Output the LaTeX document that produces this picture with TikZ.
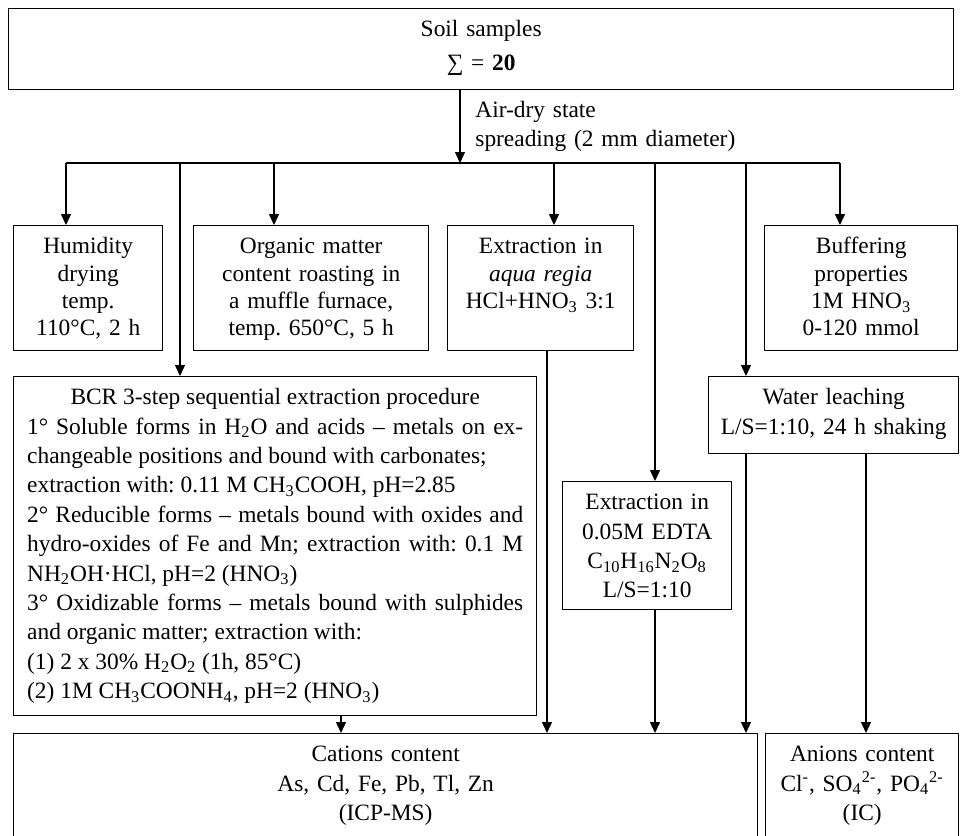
\documentclass[tikz,border=0pt]{standalone}
\usepackage{fontspec}
\setmainfont{Liberation Serif}
\frenchspacing
\usetikzlibrary{arrows.meta}
\tikzset{
  box/.style={draw, line width=0.7pt, anchor=north west, inner sep=0pt, align=center, text height=14pt},
  toprow/.style={box, font=\fontsize{11.7}{13.7}\selectfont, text depth=48.5pt},
  lbl/.style={anchor=north west, inner sep=0pt, align=left, text height=14pt},
  arr/.style={line width=0.7pt, -{Triangle[length=5.5pt,width=5pt]}},
}
\begin{document}
\begin{tikzpicture}[x=0.5pt,y=-0.5pt,font=\fontsize{11.7}{14.7}\selectfont,line join=round]
\useasboundingbox (0,0) rectangle (960,836);
% start
\node[box, text width=472.5pt, text depth=26.5pt] (soil) at (8,8) {Soil samples\\[2.3pt]∑ = \textbf{20}};
\node[lbl, text width=140pt] (prep) at (475,89) {Air-dry state\\spreading (2 mm diameter)};
\coordinate (bus) at (460,163);
% first row
\node[toprow, text width=74.5pt] (humid) at (13,225) {Humidity\\drying\\temp.\\110°C, 2 h};
\node[toprow, text width=117.5pt] (organic) at (193,225) {Organic matter\\content roasting in\\a muffle furnace,\\temp. 650°C, 5 h};
\node[toprow, text width=93pt] (aqua) at (447,225) {Extraction in\\\textit{aqua regia}\\HCl+HNO\textsubscript{3} 3:1};
\node[toprow, text width=96.5pt] (buffer) at (764,225) {Buffering\\properties\\1M HNO\textsubscript{3}\\0-120 mmol};
% second row
\node[box, align=justify, inner xsep=6.75pt, text width=248pt, text depth=155.5pt] (bcr) at (13,376) {%
\makebox[\linewidth]{BCR 3-step sequential extraction procedure}\\
1° Soluble forms in H\textsubscript{2}O and acids -- metals on ex-\linebreak
changeable positions and bound with carbonates;\\
extraction with: 0.11 M CH\textsubscript{3}COOH, pH=2.85\\
2° Reducible forms -- metals bound with oxides and\linebreak
hydro-oxides of Fe and Mn; extraction with: 0.1 M\linebreak
NH\textsubscript{2}OH·HCl, pH=2 (HNO\textsubscript{3})\\
3° Oxidizable forms -- metals bound with sulphides\linebreak
and organic matter; extraction with:\\
(1) 2 x 30\% H\textsubscript{2}O\textsubscript{2} (1h, 85°C)\\
(2) 1M CH\textsubscript{3}COONH\textsubscript{4}, pH=2 (HNO\textsubscript{3})};
\node[box, text width=84.5pt, text depth=50pt] (edta) at (562,481) {Extraction in\\0.05M EDTA\\C\textsubscript{10}H\textsubscript{16}N\textsubscript{2}O\textsubscript{8}\\L/S=1:10};
\node[box, text width=125pt, text depth=24.5pt] (water) at (708,376) {Water leaching\\L/S=1:10, 24 h shaking};
% results
\node[box, text width=372pt, text depth=42pt] (cations) at (13,733) {Cations content\\As, Cd, Fe, Pb, Tl, Zn\\(ICP-MS)};
\node[box, text width=96.5pt, text depth=42pt] (anions) at (765,733) {Anions content\\Cl\textsuperscript{-}, SO\textsubscript{4}\textsuperscript{2-}, PO\textsubscript{4}\textsuperscript{2-}\\(IC)};
% connectors
\draw[arr] (soil.south -| bus) -- (bus);
\draw[line width=0.7pt] (66,0 |- bus) -- (840,0 |- bus);
\foreach \x/\n in {66/humid,180/bcr,274/organic,554/aqua,655/edta,746/water,840/buffer}
  \draw[arr] (\x,0 |- bus) -- (\x,0 |- \n.north);
\foreach \x/\a/\b in {341/bcr/cations,547/aqua/cations,655/edta/cations,746/water/cations,866/water/anions}
  \draw[arr] (\x,0 |- \a.south) -- (\x,0 |- \b.north);
\end{tikzpicture}
\end{document}
